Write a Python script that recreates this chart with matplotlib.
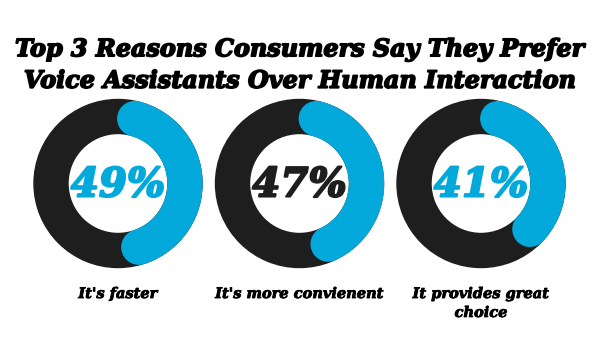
import numpy as np
import matplotlib
matplotlib.use('Agg')
from matplotlib import pyplot as plt
from matplotlib.patches import Wedge, Circle
import matplotlib.patheffects as pe

# 数据
reasons = ["It's faster", "It's more convienent", "It provides great\nchoice"]
percents = [49, 47, 41]
pct_colors = ['#03a9db', '#1e1e1e', '#03a9db']
title = "Top 3 Reasons Consumers Say They Prefer\nVoice Assistants Over Human Interaction"

dark = '#1e1e1e'
blue = '#03a9db'

fig = plt.figure(figsize=(6, 3.37), dpi=100)
ax = fig.add_axes([0, 0, 1, 1])
ax.set_xlim(0, 600)
ax.set_ylim(337, 0)
ax.set_aspect('equal')
ax.axis('off')

font = 'DejaVu Serif'
cx = [118, 299.5, 481]
cy = 183.5
r_out, width = 84, 34
r_mid = r_out - width / 2
cap = np.degrees((width / 2) / r_mid)

def heavy(lw, c):
    # 描边加粗字体
    return [pe.withStroke(linewidth=lw, foreground=c)]

for x, p, lab, c in zip(cx, percents, reasons, pct_colors):
    # 黑色底环
    ax.add_patch(Wedge((x, cy), r_out, 0, 360, width=width, color=dark))
    # 蓝色进度弧(圆头),从正上方顺时针
    # y轴翻转了, 角度取负号表示顺时针
    a0 = -90 + cap
    a1 = -90 + 360 * p / 100 - cap
    ax.add_patch(Wedge((x, cy), r_out, a0, a1, width=width, color=blue))
    for a in (a0, a1):
        t = np.radians(a)
        ax.add_patch(Circle((x + r_mid * np.cos(t), cy + r_mid * np.sin(t)),
                            width / 2, color=blue))
    ax.text(x, cy + 2, f'{p}%', ha='center', va='center', color=c,
            fontsize=29, family=font, weight='bold', style='italic',
            path_effects=heavy(1.5, c))
    ax.text(x, 287, lab, ha='center', va='top', color='black',
            fontsize=10.5, family=font, weight='bold', style='italic',
            linespacing=1.45, path_effects=heavy(0.6, 'black'))

ax.text(300, 65, title, ha='center', va='center', color='black',
        fontsize=17.2, family=font, weight='bold', style='italic',
        linespacing=1.4, path_effects=heavy(1.2, 'black'))

plt.savefig('out.png', dpi=100)
